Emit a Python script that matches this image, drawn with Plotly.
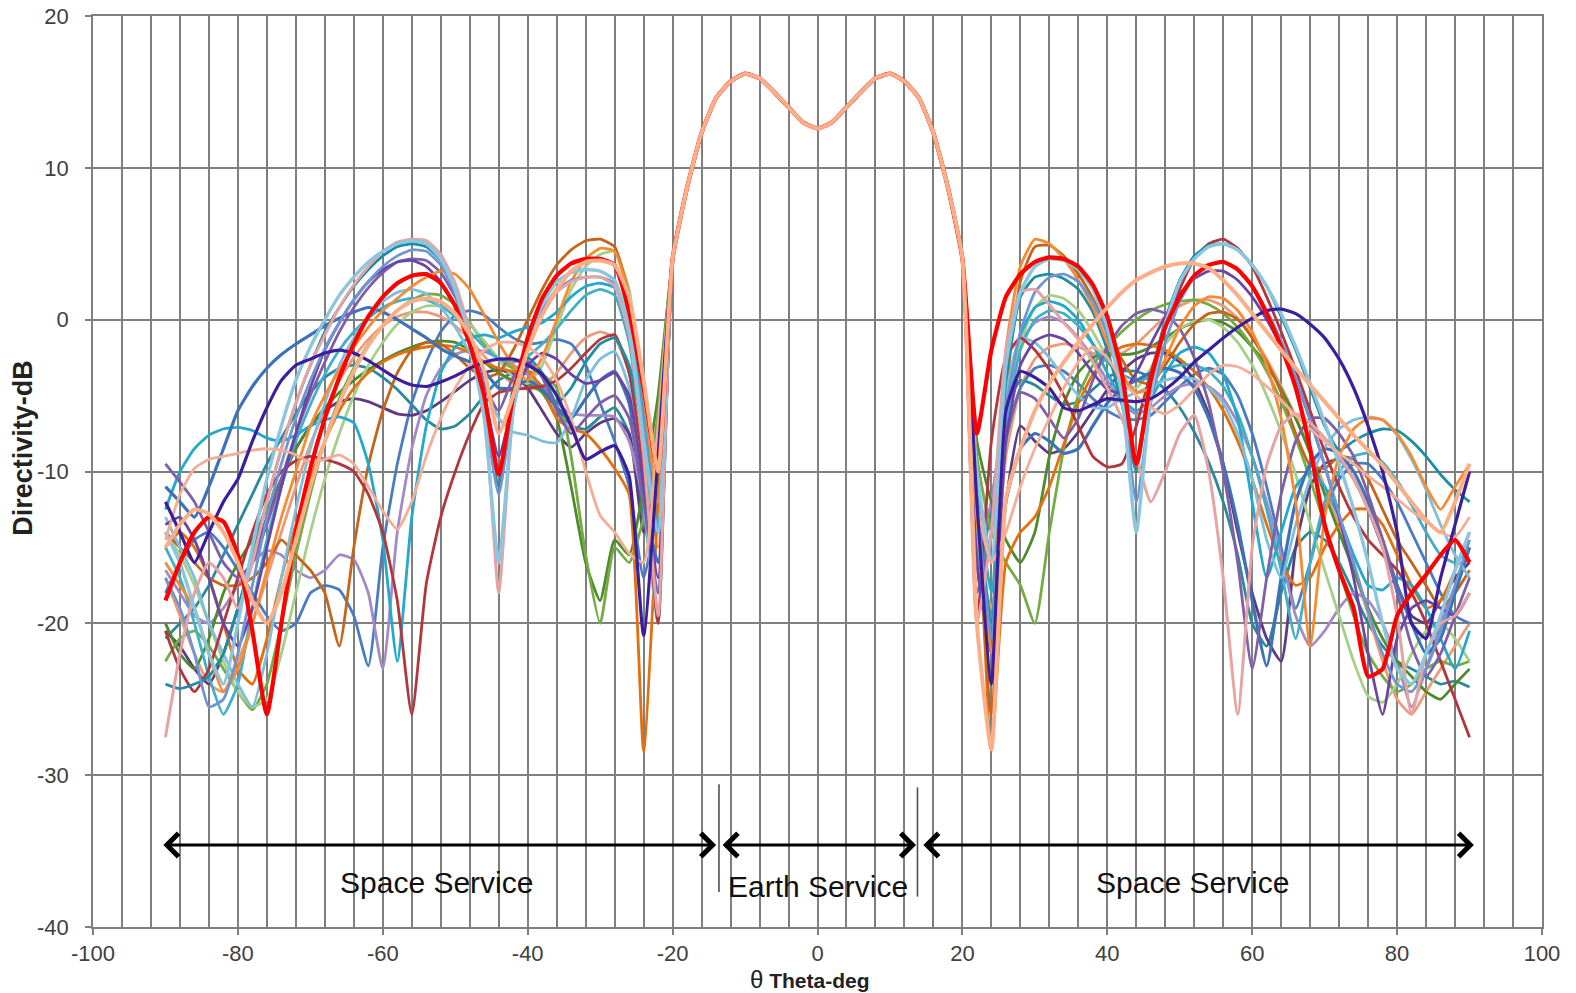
import plotly.graph_objects as go

# ---- sampling angles (deg) ----
THETA_LEFT = [-90, -88, -86, -84, -82, -80, -78, -76, -74, -72, -70, -68, -66, -64, -62,
              -60, -58, -56, -54, -52, -50, -48, -46, -44, -42, -40, -38, -36, -34, -32,
              -30, -28, -26, -24, -22]
THETA_MAIN = [-20, -18, -16, -14, -12, -10, -8, -6, -4, -2, 0, 2, 4, 6, 8, 10, 12, 14, 16, 18, 20]
THETA_RIGHT = [22, 24, 26, 28, 30, 32, 34, 36, 38, 40, 42, 44, 46, 48, 50, 52, 54, 56, 58, 60,
               62, 64, 66, 68, 70, 72, 74, 76, 78, 80, 82, 84, 86, 88, 90]

X_TICKS = [-100, -80, -60, -40, -20, 0, 20, 40, 60, 80, 100]
X_TICK_TEXT = ["-100", "-80", "-60", "-40", "-20", "0", "20", "40", "60", "80", "100"]
Y_TICKS = [-40, -30, -20, -10, 0, 10, 20]
Y_TICK_TEXT = ["-40", "-30", "-20", "-10", "0", "10", "20"]

# shared main (Earth service) lobe, dB
MAIN = [4.0, 8.7, 12.3, 14.6, 15.7, 16.2, 15.9, 15.0, 14.0, 13.0, 12.6,
        13.0, 14.0, 15.0, 15.9, 16.2, 15.7, 14.6, 12.3, 8.7, 4.0]

# ---- side-lobe values per beam configuration (left: -90..-22, right: 22..90) ----
RED_L = [-18.5,-16,-14,-13,-13.3, -15.5,-20.5,-26,-20,-14, -9.8,-6.5,-3.8,-1.6,0.2, 1.5,2.4,2.9,3.0,2.4, 0.9,-1.6,-5,-10.2,-5, -1.2,1.4,2.9,3.7,4.0, 4.0,3.6,0.5,-4.5,-10]
RED_R = [-7.5,-2,1.5,3.0,3.8, 4.1,4.0,3.5,2.3,0.2, -3.5,-9.5,-4,-0.5,1.5, 2.9,3.6,3.8,3.3,2.2, 0.4,-1.8,-4.5,-8.5,-13.5, -16.5,-19,-23.5,-23,-19.5, -18,-16.8,-15.5,-14.5,-16]
NAVY_L = [-12,-14,-16,-14,-12, -10.5,-8,-5.8,-4,-3, -2.6,-2.2,-2,-2.2,-2.7, -3.3,-3.9,-4.3,-4.4,-4.1, -3.7,-3.2,-2.8,-2.6,-2.6, -3,-3.6,-5,-7,-9.2, -8.7,-8.3,-10.3,-20.8,-9]
NAVY_R = [-12,-24,-6,-3.4,-3.8, -4.5,-5.8,-6.0,-5.6,-5.2, -5.3,-5.4,-5.2,-4.6,-3.8, -2.8,-2.0,-1.2,-0.5,0.1, 0.6,0.7,0.4,-0.3,-1.2, -2.6,-4.5,-7,-10,-14, -20,-21,-17,-13.5,-10]
LB_L = [-14,-16,-19,-22,-24, -20,-15,-10.5,-7,-4, -1.8,0,1.6,2.8,3.8, 4.5,5.0,5.2,5.0,4.0, 2.0,-1.5,-6.5,-16,-6, -1.5,1,2.5,3.1,3.3, 3.2,2.6,-0.5,-8,-14]
LB_R = [-10,-16,-3,1.8,3.5, 4.0,3.9,3.3,2.0,-0.5, -5,-14,-5,-0.3,2.5, 4.0,4.8,5.0,4.6,3.6, 2.2,0.4,-1.8,-4.2,-6.8, -9.5,-12.5,-16,-20,-23, -24,-22,-19.5,-16.5,-14]
PINK_L = [-27.5,-22,-18,-16,-17, -19,-16,-12,-8.5,-5.5, -3,-1,0.8,2.3,3.5, 4.5,5.1,5.3,5.2,4.3, 2.4,-0.8,-5.5,-18,-6, -2,0.3,1.8,2.5,2.8, 2.8,2.2,-1,-9,-19.5]
PINK_R = [-20,-14,-2,1.8,2.0, 1.0,-0.2,-1.3,-2.8,-4.5, -6.5,-9,-12,-10,-7.5, -6.3,-10,-17,-26,-15, -9.6,-7,-6.2,-6.8,-7.8, -9,-10.5,-12.5,-15,-19.5, -26,-22,-20,-19.5,-18]
DKRED_L = [-20.5,-23,-24.5,-23,-20, -17,-14,-11.5,-10,-9.3, -9,-9.2,-9.5,-10,-11.5, -14,-18.5,-26,-17.4,-13, -10,-7.5,-5.5,-4.8,-4.6, -4.5,-4.4,-4,-3.2,-2.2, -1.3,-1.0,-3.5,-10,-20]
DKRED_R = [-20,-8,-2.5,-1.2,-2.0, -3.3,-5,-7,-9,-9.7, -9.5,-7,-3.5,-0.5,2.0, 4.0,5.0,5.3,4.7,3.5, 1.5,-0.8,-3.3,-6,-8.7, -11,-13,-14.5,-15.5,-16.5, -18,-20,-22.5,-25,-27.5]
TEAL_L = [-24,-24.3,-24,-23.5,-22, -19,-15.5,-12,-8.5,-5.5, -3,-0.8,0.8,2.2,3.3, 4.2,4.8,5.0,4.8,3.9, 2.0,-1.0,-5.0,-11,-4.5, -2.5,-3.5,-5.5,-4.5,-2.8, -1.6,-1.2,-3,-8,-14]
TEAL_R = [-12,-20,-4,1.5,2.8, 3.0,2.7,2.0,0.5,-2, -5.5,-10,-4,0,2.6, 4.2,4.9,5.0,4.6,3.6, 2.2,0.2,-2,-4.5,-7, -8.6,-8,-7.5,-7.2,-7.3, -8,-9,-10.2,-11.2,-12]
STEEL_L = [-11,-12,-13,-11,-8.5, -6,-4.4,-3.2,-2.3,-1.6, -1,-0.4,0.1,0.5,0.8, 0.5,0,-0.6,-1.2,-1.9, -2.4,-2.8,-3.4,-4.5,-4.5, -4,-4.6,-5.8,-6.5,-5.2, -4.0,-3.4,-5.5,-12,-16]
STEEL_R = [-14,-21,-12,-8.5,-7.5, -8,-8.8,-8.5,-7,-5.5, -4.5,-4,-3.5,-3.2,-3.5, -4.5,-6.5,-9.5,-13.5,-18.5, -22.8,-17,-12,-9.5,-8.5, -8.8,-10,-12,-14.5,-17.5, -20,-22,-21,-18,-15]
CYAN_L = [-12.5,-10,-8.5,-7.6,-7.2, -7.1,-7.3,-7.8,-8,-7.6, -7,-6.6,-6.4,-6.8,-9.5, -14.5,-22.5,-13,-7,-3.5, -1.8,-1.2,-1.0,-1.2,-0.8, -0.5,-0.2,0.5,1.5,2.2, 2.4,2.1,-0.5,-6,-14]
CYAN_R = [-11,-18,-5,-1,0.8, 1.2,0.9,0,-1.6,-3.5, -5.2,-6,-5.2,-3.5,-2.2, -1.8,-2.2,-3.6,-6.5,-12, -17,-14,-11,-10,-11, -13,-15.5,-17.5,-17.8,-17, -17.5,-19,-21,-23,-20.5]
ORANGE_L = [-16,-17.5,-19,-22,-24.5, -23,-20,-16.5,-13,-10, -7,-5,-3.3,-1.8,-0.5, 0.6,1.4,2.2,2.8,3.2, 3.0,2.0,0.3,-1.5,-3.0, -4.0,-2.5,0,2.5,4.0, 4.7,4.5,1.5,-5,-12]
ORANGE_R = [-13,-22,-2,3.5,5.3, 5.0,4.0,2.6,0.8,-1.5, -3.6,-4.8,-4.5,-2.6,-0.5, 0.9,1.5,1.4,0.6,-0.8, -3,-6.5,-12,-21.5,-13, -9,-7.2,-6.5,-6.6,-7.5, -9,-11,-12.5,-11,-9.5]
BROWN_L = [-14,-15,-16,-17,-17.5, -17.5,-17,-16,-14.5,-15.5, -16.5,-18,-21.5,-15,-9.6, -6,-3.5,-2,-1.5,-1.6, -2.3,-3.2,-3.8,-3.5,-2, 0,2,3.6,4.6,5.2, 5.3,4.8,1.5,-6,-14]
BROWN_R = [-12,-26,-5,2.5,4.8, 4.9,4.2,3.0,1.4,-0.6, -2.6,-4,-4.2,-3,-1.5, -0.3,0.4,0.5,0,-1.2, -2.8,-4.8,-7.5,-9.6,-9.8, -9,-9.2,-10.5,-12.5,-14.5, -16,-17.5,-19,-18,-16.5]
ORANGE2_L = [-15,-14,-15,-17,-20, -23,-24,-21,-17,-13.5, -10.5,-8,-6,-4.5,-3.5, -2.8,-2.3,-2,-1.8,-1.7, -1.8,-2.2,-2.8,-3.2,-3.4, -3.4,-4.5,-6.5,-7.2,-7.5, -8.5,-9.8,-11.5,-28.4,-12]
ORANGE2_R = [-10,-28.4,-16,-14,-13, -11,-8.2,-5.5,-3.6,-2.4, -1.8,-1.6,-1.7,-2,-2.6, -3.4,-4.5,-6,-8,-10.5, -13.5,-16,-17.5,-17,-15, -13.5,-12.5,-12.5,-13.5,-15.5, -17.5,-19,-18.5,-16.5,-14]
GREEN_L = [-22.5,-21,-20.5,-21.5,-23, -24.5,-25.7,-24,-20,-15.5, -11.5,-8,-5.2,-3.2,-1.6, -0.4,0.6,1.3,1.7,1.6, 1.0,-0.2,-1.6,-2.6,-3.2, -3.4,-3.6,-4.5,-9,-15.5, -20,-15,-16,-13,-6]
GREEN_R = [-9,-14,-16,-17.5,-20, -14,-8.5,-5,-3,-1.8, -0.8,0,0.6,1.0,1.2, 1.3,1.0,0.4,-0.5,-1.8, -3.4,-5.4,-7.8,-10.5,-13.5, -16.5,-19.5,-22,-23.5,-24.5, -24,-23,-22.5,-22.8,-22.5]
DKGREEN_L = [-20,-22,-23,-21,-18, -16,-14.5,-12.5,-10.5,-8.5, -7,-5.8,-4.8,-4,-3.3, -2.7,-2.2,-1.8,-1.5,-1.4, -1.5,-2,-2.8,-3.5,-4, -4.2,-4.8,-6.5,-11,-16, -18.5,-14.5,-15.5,-11,-5]
DKGREEN_R = [-8,-12,-14.5,-16,-14, -9,-5.5,-3.5,-2.5,-2.2, -2.3,-2.2,-1.8,-1.2,-0.6, -0.2,0,-0.2,-0.8,-1.8, -3,-4.6,-6.5,-8.8,-11.5, -14,-16.5,-19,-21,-22.5, -23.5,-24.5,-25,-24,-23]
LTGREEN_L = [-14,-15.5,-17.5,-20,-22.5, -24.5,-25.5,-25,-22,-18, -14,-10.5,-7.5,-5,-3, -1.5,-0.3,0.5,0.9,0.9, 0.5,-0.3,-1.4,-2.6,-3.8, -4.2,-3,-0.5,2,3.5, 4.3,4.5,2,-6,-12]
LTGREEN_R = [-11,-20,-6,-1.5,0.8, 1.6,1.4,0.6,-0.8,-2.5, -4,-4.5,-3.2,-1.6,-0.6, -0.1,0,-0.5,-1.5,-3, -5,-7.4,-10.2,-13.4,-16.5, -19.5,-22.5,-24.8,-25.2,-24, -22,-20.5,-20,-21,-22.5]
PURPLE_L = [-9.5,-10.7,-12,-14,-16, -17,-16,-13.5,-10.5,-7.5, -5,-2.8,-0.8,0.8,2.1, 3.1,3.8,4.0,3.9,3.1, 1.5,-1,-4.3,-6,-3.8, -2.8,-3.8,-6,-7.5,-6.5, -5.5,-5,-6.5,-12,-18]
PURPLE_R = [-18,-14,-7.5,-4.8,-5.2, -6.5,-7.8,-6.5,-4,-1.8, -0.4,0.4,0.7,0.4,-0.6, -2.5,-5.5,-10,-16,-23, -17,-11.5,-8,-6.5,-6.5, -7.5,-9,-11.5,-14.5,-18, -21.5,-23.5,-22,-19.5,-17]
LTPURPLE_L = [-16.5,-18,-19.5,-20,-19, -17.5,-16,-15.2,-15.5,-16.5, -17,-16.5,-15.5,-15.8,-18, -23,-14,-8.5,-5,-3.2, -2.3,-2,-2.1,-2.5,-3, -3.6,-4.5,-5.5,-6.2,-6.3, -6.3,-6.4,-8,-12,-18]
LTPURPLE_R = [-15,-12,-5,-1.5,-0.2, 0.2,-0.2,-1.2,-2.5,-4, -5.5,-6.2,-5.8,-5,-4.4, -4.2,-4.4,-5.2,-6.8,-9, -12,-15.5,-19.5,-21.5,-20.5, -19,-18,-18.5,-20,-22.5, -25.5,-23,-20,-17.5,-15]
DKPURPLE_L = [-20.5,-21.5,-23,-24,-22, -19,-16,-13,-10.5,-8.5, -7,-6,-5.4,-5.2,-5.4, -5.8,-6.2,-6.3,-6,-5.4, -4.7,-4,-3.5,-3.3,-3.6, -4.5,-6,-7.5,-8.4,-7.5, -6.8,-6.5,-7.5,-14,-10]
DKPURPLE_R = [-16,-22,-12,-7,-8, -8.8,-8.5,-7.4,-6,-4.6, -3.4,-2.6,-2.2,-2.2,-2.8, -4,-6.2,-9.5,-14,-18, -21,-22.5,-15,-11,-9.5, -9.2,-10.5,-12.5,-15,-17.5, -19.5,-20,-18.5,-17,-16]
PEACH_L = [-15,-13.5,-12.5,-12.8,-14, -16,-18.5,-20,-18,-14.5, -11,-8,-5.5,-3.4,-1.7, -0.4,0.6,1.2,1.4,1.2, 0.4,-1,-3.4,-7.5,-5, -2,0.3,2,3.2,3.8, 3.9,3.6,1.5,-4,-10]
PEACH_R = [-20,-28.3,-11.8,-8.5,-6, -4.2,-2.8,-1.5,-0.3,0.8, 1.8,2.6,3.1,3.5,3.7, 3.7,3.4,2.6,1.6,0.4, -0.8,-2,-3.2,-4.3,-5.4, -6.5,-7.6,-8.6,-9.6,-10.8, -12,-13.2,-14,-12,-9.5]
PEACH2_L = [-14.5,-11.5,-9.8,-9.2,-9.0, -8.8,-8.6,-8.5,-8.6,-8.9, -9.4,-9.2,-8.9,-9.5,-11, -12.6,-13.8,-12,-9,-6.5, -4.5,-3,-2,-1.5,-1.5, -1.8,-2.5,-4,-6.5,-10, -12.9,-14,-15.4,-16,-7]
PEACH2_R = [-12,-16,-14,-11,-8.5, -6.5,-4.5,-2.8,-1.8,-2.5, -4,-5,-5.8,-6.2,-5.6, -4.6,-3.6,-3.0,-3.1,-3.6, -4.4,-5.3,-6.3,-7.2,-8.0, -8.8,-9.5,-10.3,-11,-11.8, -12.6,-13.3,-14,-14.3,-13]
CORN_L = [-17,-19,-22,-25.5,-25, -22,-17.5,-13,-9.5,-6.5, -4,-1.9,-0.2,1.3,2.5, 3.5,4.2,4.6,4.5,3.6, 1.7,-1.5,-6,-11.5,-5.5, -1.8,0.6,2,2.6,2.8, 2.8,2.4,-0.5,-7,-14]
CORN_R = [-12,-21,-6,-0.8,1.8, 2.8,3,2.5,1.2,-1, -4.5,-12,-5.5,-1.5,1.2, 2.8,3.6,3.8,3.3,2.2, 0.6,-1.4,-3.8,-6.6,-9.6, -12.8,-16,-19.2,-22,-24, -24.5,-23,-20.5,-17.5,-14.5]
LB2_L = [-13,-15,-17,-20,-22, -24,-25.5,-22,-17,-12.5, -8.5,-5.5,-3,-1.2,0.2, 1.2,1.8,2.0,1.7,0.8, -0.5,-2.2,-4.2,-6.5,-7.4, -7.6,-8.0,-8.1,-6.5,-4, -2.6,-2.1,-4.5,-12,-20]
LB2_R = [-14,-20,-5,-1.2,-1.5, -2.5,-3.8,-5,-5.8,-5.8, -5.2,-4.8,-4.4,-4,-3.8, -3.9,-4.5,-5.5,-7.5,-10.5, -14.5,-17,-13.5,-10.5,-8.4, -7.2,-6.6,-6.4,-6.6,-7.6, -9.2,-11.2,-13.5,-15.5,-17]
TURQ_L = [-15,-17,-20,-23.5,-26, -24,-19,-14.5,-11,-8, -5.6,-3.6,-2,-0.8,0.1, 0.8,1.2,1.4,1.3,0.9, 0.2,-0.8,-1.8,-2.6,-2.8, -2.4,-1.6,-0.6,0.6,1.6, 2.0,1.6,-1.5,-8.5,-14]
TURQ_R = [-13,-22,-7,-2,0, 0.6,0.4,-0.4,-1.6,-2.8, -3.6,-4,-3.8,-3.3,-3.0, -3.0,-3.4,-4.4,-6.2,-9, -12.5,-16.5,-21,-16,-12, -10,-9,-8.8,-9.4,-10.6, -12.2,-14,-15.5,-16,-15]
VIOLET_L = [-13.5,-13,-14.5,-17,-20, -21.5,-19,-15,-11,-7.5, -4.5,-2,-0.2,1.3,2.5, 3.3,3.8,3.9,3.5,2.5, 0.8,-1.6,-5,-9,-5.5, -3,-2.2,-2.6,-3.6,-4.2, -4.0,-3.5,-5,-11,-17]
VIOLET_R = [-16,-22,-8,-3,-1.4, -1,-1.3,-2.2,-3.5,-4.6, -4.8,-3.5,-1.6,0.2,1.7, 2.7,3.2,3.2,2.6,1.5, 0,-1.8,-4,-6.6,-9.6, -13,-17,-22,-26,-21, -19,-18.5,-19,-19.5,-18]
DKCYAN_L = [-21,-20,-19,-17.5,-15.5, -13.5,-11.5,-9.5,-7.8,-6.2, -4.8,-3.8,-3.2,-3,-3.2, -3.8,-4.6,-5.6,-6.6,-7.2, -7.0,-6.2,-5,-4,-3.5, -3.6,-4.4,-5.8,-7,-7.2, -6.4,-5.8,-7.5,-13,-18]
DKCYAN_R = [-18,-12,-6,-4,-4.3, -5,-5.6,-5.4,-4.6,-3.8, -3.4,-3.4,-3.8,-4.6,-5.8, -7.4,-9.4,-12,-15.5,-20, -21.5,-18,-15,-14,-14.5, -16,-18,-20,-21.5,-22.5, -23,-23.5,-24,-23.8,-24.2]
SALMON_L = [-17,-19.5,-22,-24,-24.5, -22.5,-20,-17,-14,-11, -8.2,-6,-4,-2.5,-1.3, -0.4,0.2,0.5,0.5,0.2, -0.4,-1.3,-2.4,-3.5,-4.2, -4.6,-4.4,-3.5,-2.2,-1.2, -0.8,-1.2,-3.5,-9.5,-15]
SALMON_R = [-15,-19,-9,-4.5,-2.6, -1.8,-1.6,-1.8,-2.2,-2.4, -2.2,-1.6,-0.7,0.2,0.9, 1.3,1.3,0.9,0.1,-1.1, -2.6,-4.4,-6.4,-8.6,-11, -13.6,-16.4,-19.4,-22.5,-25, -26,-24.5,-23,-21.5,-20]
BLUE2_L = [-18,-16,-14.5,-14,-15, -16.5,-18,-19.5,-20.5,-20, -18,-17.5,-17.8,-19.5,-22.8, -15,-9.5,-5.5,-2.8,-0.8, 0.3,0.6,0.3,-0.5,-1.2, -1.6,-1.5,-1.3,-1.6,-3, -5.5,-8,-11,-17,-12]
BLUE2_R = [-13,-20,-8,-4.5,-3.2, -3.0,-3.4,-4.2,-5.2,-6, -6.5,-6.6,-6.3,-5.4,-4.4, -3.6,-3.2,-3.6,-5,-7.5, -11,-15,-19,-16,-12.5, -10.5,-9.5,-9.5,-10.5,-12, -14,-16,-18,-19.5,-20]

# (left, right, colour, width) in drawing order
SERIES = [
    (DKCYAN_L, DKCYAN_R, "#2A8A9C", 2.8),
    (SALMON_L, SALMON_R, "#EE9A78", 2.8),
    (BLUE2_L, BLUE2_R, "#4A7CC4", 2.8),
    (DKPURPLE_L, DKPURPLE_R, "#5E3B7E", 2.8),
    (LTPURPLE_L, LTPURPLE_R, "#A28AC6", 2.8),
    (DKGREEN_L, DKGREEN_R, "#4F8A2C", 2.8),
    (GREEN_L, GREEN_R, "#72AC43", 2.8),
    (LTGREEN_L, LTGREEN_R, "#A6CF8A", 2.8),
    (ORANGE2_L, ORANGE2_R, "#E2700E", 2.8),
    (BROWN_L, BROWN_R, "#C4651A", 2.8),
    (TURQ_L, TURQ_R, "#40B0C8", 2.8),
    (CYAN_L, CYAN_R, "#22A9CC", 2.8),
    (STEEL_L, STEEL_R, "#3E72B8", 3.2),
    (LB2_L, LB2_R, "#7FBFDB", 2.8),
    (DKRED_L, DKRED_R, "#B3363C", 2.8),
    (TEAL_L, TEAL_R, "#1E8EA5", 2.8),
    (PURPLE_L, PURPLE_R, "#7E5FA8", 2.8),
    (VIOLET_L, VIOLET_R, "#6A45A6", 2.8),
    (ORANGE_L, ORANGE_R, "#F68B33", 2.8),
    (CORN_L, CORN_R, "#6F96D2", 2.8),
    (PINK_L, PINK_R, "#E5A3A3", 3.0),
    (LB_L, LB_R, "#8CC5DE", 3.4),
    (PEACH2_L, PEACH2_R, "#F3AE98", 2.8),
    (NAVY_L, NAVY_R, "#3B1E9E", 3.2),
    (RED_L, RED_R, "#FF0000", 4.2),
    (PEACH_L, PEACH_R, "#FBAF88", 4.0),
]

fig = go.Figure()
theta = THETA_LEFT + THETA_MAIN + THETA_RIGHT
for left, right, color, width in SERIES:
    fig.add_trace(go.Scatter(
        x=theta, y=left + MAIN + right, mode="lines",
        line=dict(color=color, width=width, shape="spline", smoothing=0.5),
        showlegend=False, hoverinfo="skip"))

GRID = "#7f7f7f"
TICKFONT = dict(family="Liberation Sans, Arial, sans-serif", size=22, color="#404040")

fig.update_xaxes(range=[-100, 100], tickmode="array", tickvals=X_TICKS, ticktext=X_TICK_TEXT,
                 showgrid=True, gridcolor=GRID, gridwidth=1.6,
                 minor=dict(tick0=-100, dtick=4, showgrid=True, gridcolor=GRID, gridwidth=1.6),
                 ticks="outside", ticklen=6, tickwidth=1.6, tickcolor=GRID,
                 showline=True, linecolor=GRID, linewidth=1.6, mirror=True,
                 zeroline=False, tickfont=TICKFONT, ticklabelstandoff=0, automargin=False)
fig.update_yaxes(range=[-40, 20], tickmode="array", tickvals=Y_TICKS, ticktext=Y_TICK_TEXT,
                 showgrid=True, gridcolor=GRID, gridwidth=1.6,
                 ticks="outside", ticklen=6, tickwidth=1.6, tickcolor=GRID,
                 showline=True, linecolor=GRID, linewidth=1.6, mirror=True,
                 zeroline=False, tickfont=TICKFONT, ticklabelstandoff=12, automargin=False)

LABEL_FONT = dict(family="Liberation Sans, Arial, sans-serif", size=30, color="#111111")
ARROW_Y = -34.6
arrows = [(-90.5, -14.0), (-13.3, 13.6), (14.4, 90.6)]
ann = []
for a0, a1 in arrows:
    ann.append(dict(x=a1, y=ARROW_Y, ax=a0, ay=ARROW_Y, xref="x", yref="y", axref="x", ayref="y",
                    text="", showarrow=True, arrowhead=4, startarrowhead=4, arrowside="end+start",
                    arrowwidth=3, arrowsize=1.5, startarrowsize=1.5, arrowcolor="black"))
ann += [
    dict(x=-52.6, y=-37.1, xref="x", yref="y", text="Space Service", showarrow=False, font=LABEL_FONT),
    dict(x=0.1, y=-37.3, xref="x", yref="y", text="Earth Service", showarrow=False, font=LABEL_FONT),
    dict(x=51.7, y=-37.1, xref="x", yref="y", text="Space Service", showarrow=False, font=LABEL_FONT),
    dict(x=-0.0483, y=0.526, xref="paper", yref="paper", text="<b>Directivity-dB</b>", textangle=-90,
         showarrow=False, xanchor="center", yanchor="middle",
         font=dict(family="Liberation Sans, Arial, sans-serif", size=27, color="#222222")),
    dict(x=0.4948, y=-0.0571, xref="paper", yref="paper",
         text="<span style='font-size:24px'>θ</span> <b>Theta-deg</b>",
         showarrow=False, xanchor="center", yanchor="middle",
         font=dict(family="Liberation Sans, Arial, sans-serif", size=21, color="#222222")),
]

shapes = [
    dict(type="line", xref="x", yref="y", x0=-13.6, x1=-13.6, y0=-30.6, y1=-37.7,
         line=dict(color="#505050", width=1.6)),
    dict(type="line", xref="x", yref="y", x0=13.8, x1=13.8, y0=-30.8, y1=-38.0,
         line=dict(color="#505050", width=1.6)),
]

fig.update_layout(width=1576, height=993, margin=dict(l=93, r=34, t=16, b=66),
                  paper_bgcolor="white", plot_bgcolor="white",
                  annotations=ann, shapes=shapes, showlegend=False)

fig.write_html("out.html")
